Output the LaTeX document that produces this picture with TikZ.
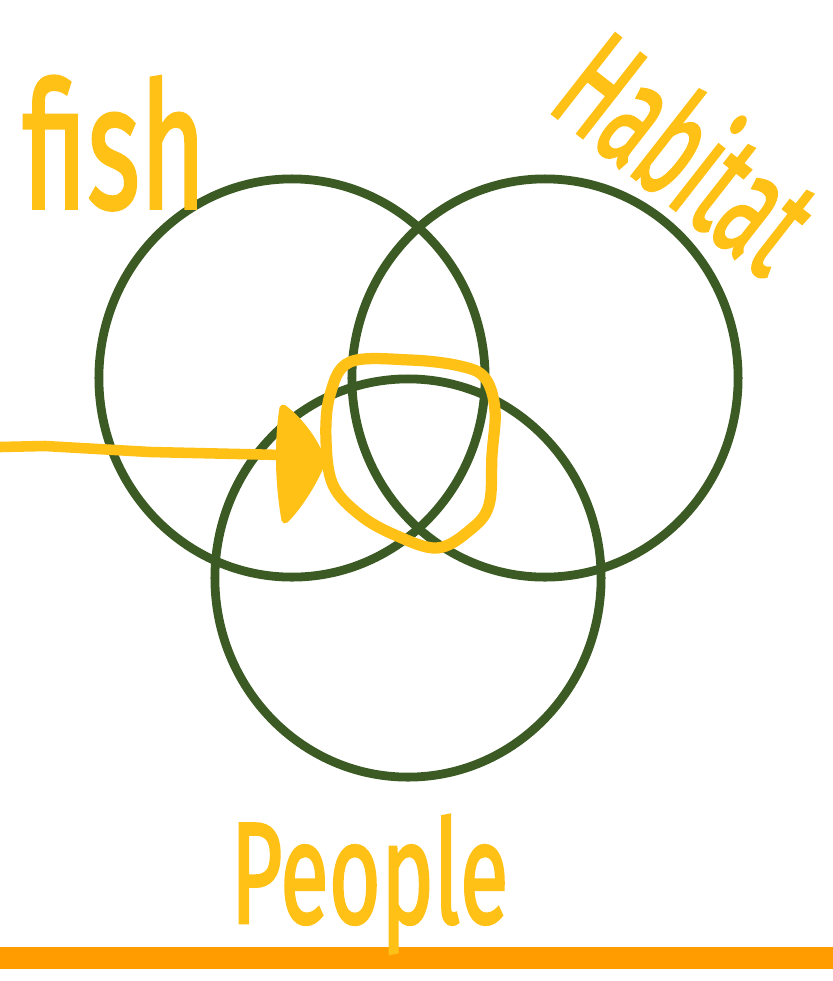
\documentclass[tikz,border=0pt]{standalone}
\usepackage{graphicx}
\usepackage{fontspec}
\setmainfont{Fira Sans}
\newfontfamily\handfont{Fira Sans}[FakeBold=2]
\usetikzlibrary{shapes.geometric}
\begin{document}
\definecolor{vgreen}{HTML}{3B5A24}
\definecolor{hyellow}{HTML}{FFC116}
\definecolor{barorange}{HTML}{FF9C00}
\begin{tikzpicture}[x=0.01cm,y=-0.01cm,
  setcircle/.style={draw=vgreen,line width=2.5pt,ellipse,inner sep=0pt,minimum width=3.86cm,minimum height=3.98cm},
  ink/.style={draw=hyellow,line width=3pt,line cap=round,line join=round},
  label/.style={text=hyellow,inner sep=0pt}]
\useasboundingbox[fill=white] (0,0) rectangle (833,981);
% sets
\node[setcircle] (fishset) at (292,378) {};
\node[setcircle] (habset) at (545,378) {};
\node[setcircle] (peopleset) at (408,578) {};
% bottom bar
\fill[barorange] (0,947) rectangle (833,969);
% labels
\node[label,anchor=base west,font=\handfont\fontsize{50}{50}\selectfont] (fishlbl) at (22,208) {\scalebox{0.64}[1]{fish}};
\node[label,anchor=base west,rotate=-38,font=\handfont\fontsize{42}{42}\selectfont] (hablbl) at (545,108) {\scalebox{0.56}[1]{Habitat}};
\node[label,anchor=base west,font=\handfont\fontsize{41}{41}\selectfont] (peoplelbl) at (230,923) {\scalebox{0.62}[1]{People}};
% pointer and highlighted region
\coordinate (start) at (0,447);
\coordinate (tip) at (283,455);
\draw[ink] (start) -- (45,446) -- (150,452) -- (tip);
\filldraw[ink,fill=hyellow,line width=2pt] (283,408) .. controls (300,420) and (318,445) .. (322,462)
  .. controls (315,480) and (300,505) .. (285,520) .. controls (278,480) and (278,440) .. (283,408) -- cycle;
\draw[ink,line width=3.2pt] plot[smooth cycle,tension=0.6] coordinates {
  (350,362) (410,360) (460,366) (485,378) (495,410) (492,455) (489,505) (470,530)
  (437,548) (395,535) (360,515) (333,485) (326,440) (330,395)};
\end{tikzpicture}
\end{document}
